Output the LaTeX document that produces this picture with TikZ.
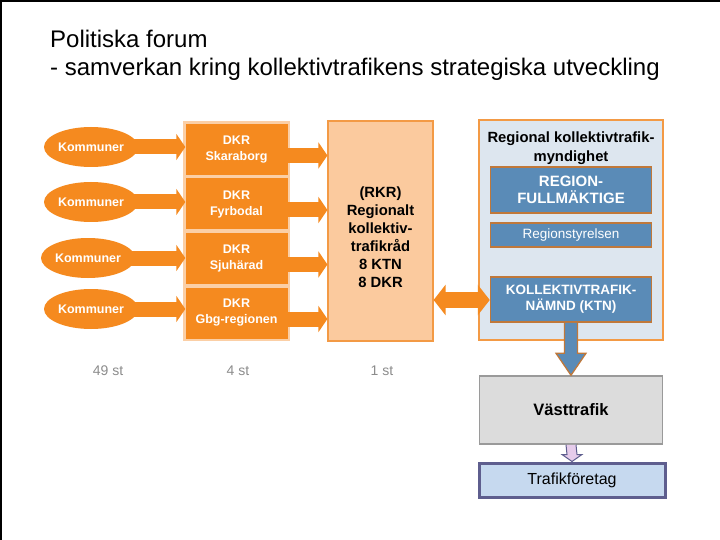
\documentclass[tikz,border=0pt]{standalone}
\usepackage{fontspec}
\setmainfont{Liberation Sans}
\usetikzlibrary{shapes.geometric,arrows.meta,calc}
\definecolor{org}{HTML}{F58A1F}
\definecolor{orglight}{HTML}{FBCFA6}
\definecolor{peach}{HTML}{FBCA9E}
\definecolor{orgborder}{HTML}{F39A45}
\definecolor{mynfill}{HTML}{DDE6EF}
\definecolor{blu}{HTML}{5A8BB7}
\definecolor{brn}{HTML}{C0783A}
\definecolor{vtfill}{HTML}{DCDCDC}
\definecolor{vtdraw}{HTML}{9A9A9A}
\definecolor{tffill}{HTML}{C6D9EF}
\definecolor{tfdraw}{HTML}{5E5E8E}
\definecolor{lilac}{HTML}{E6CCEB}
\definecolor{stgray}{HTML}{8C8C8C}
\begin{document}
\begin{tikzpicture}[x=1pt,y=-1pt,
  komm/.style={ellipse, fill=org, text=white, font=\bfseries\fontsize{12.5}{14}\selectfont, minimum width=94pt, minimum height=40pt, inner sep=0pt},
  dkr/.style={rectangle, fill=org, text=white, align=center, font=\bfseries\fontsize{12.5}{16}\selectfont, minimum width=102pt, minimum height=51pt, inner sep=0pt},
  rkrbox/.style={rectangle, fill=peach, draw=orgborder, line width=1.2pt, minimum width=105pt, minimum height=220pt, inner sep=0pt},
  mynbox/.style={rectangle, fill=mynfill, draw=orgborder, line width=1.2pt, minimum width=184pt, minimum height=220pt, inner sep=0pt},
  bluebox/.style={rectangle, fill=blu, draw=brn, line width=1.5pt, text=white, align=center, minimum width=161pt, inner sep=0pt},
  oarrow/.style={draw=org, line width=15pt, -{Triangle[length=9pt,width=26pt]}},
  starrow/.style={text=stgray, font=\fontsize{14}{16}\selectfont}
]
\useasboundingbox (0,0) rectangle (720,540);
\fill[white] (0,0) rectangle (720,540);
\draw[line width=2pt] (1,540) -- (1,1) -- (720,1);

% title
\node[anchor=base west, font=\fontsize{24}{28}\selectfont, inner sep=0pt] (t1) at (50,48) {Politiska forum};
\node[anchor=base west, font=\fontsize{24}{28}\selectfont, inner sep=0pt] (t2) at (50,76) {- samverkan kring kollektivtrafikens strategiska utveckling};

% DKR column background
\fill[orglight] (183,121) rectangle (290,341);

% DKR boxes
\node[dkr] (d1) at (236.5,149.5) {DKR\\Skaraborg};
\node[dkr] (d2) at (236.5,204) {DKR\\Fyrbodal};
\node[dkr] (d3) at (236.5,258.5) {DKR\\Sjuhärad};
\node[dkr] (d4) at (236.5,313) {DKR\\Gbg-regionen};

% RKR
\node[rkrbox] (rkr) at (380.5,231) {};
\node[align=center, font=\bfseries\fontsize{14.8}{18}\selectfont, inner sep=0pt] (rkrtext) at (380.5,237) {(RKR)\\Regionalt\\kollektiv-\\trafikråd\\8 KTN\\8 DKR};

% Kommuner ellipses and arrows
\node[komm] (k1) at (91,147) {Kommuner};
\node[komm] (k2) at (91,202) {Kommuner};
\node[komm] (k3) at (88,258) {Kommuner};
\node[komm] (k4) at (91,309) {Kommuner};
\foreach \i in {1,...,4}{
  \draw[oarrow] ([xshift=-6pt]k\i.east) -- (k\i.east -| d\i.west);
  \draw[oarrow] ([yshift=-6pt]d\i.east) -- ([yshift=-6pt]d\i.east -| rkr.west);
}

% Myndighet
\node[mynbox] (myn) at (571,230) {};
\node[align=center, font=\bfseries\fontsize{14.8}{19}\selectfont, inner sep=0pt] (myntitle) at (571,148) {Regional kollektivtrafik-\\myndighet};
\node[bluebox, minimum height=46pt, font=\bfseries\fontsize{15}{17}\selectfont] (rf) at (571,190) {REGION-\\FULLMÄKTIGE};
\node[bluebox, minimum height=24pt, font=\fontsize{13.5}{15}\selectfont] (rs) at (571,235) {Regionstyrelsen};
\node[bluebox, minimum height=45pt, font=\bfseries\fontsize{13.5}{16}\selectfont] (ktn) at (571,299.5) {KOLLEKTIVTRAFIK-\\NÄMND (KTN)};

% double arrow
\draw[draw=org, line width=16pt, {Triangle[length=12pt,width=30pt]}-{Triangle[length=12pt,width=30pt]}] (rkr.east |- 0,300) -- (ktn.west |- 0,300);

% Västtrafik
\node[rectangle, fill=vtfill, draw=vtdraw, line width=1.5pt, minimum width=183pt, minimum height=68pt, font=\bfseries\fontsize{16.5}{19}\selectfont] (vt) at (571,410) {Västtrafik};

% Trafikföretag
\node[rectangle, fill=tffill, draw=tfdraw, line width=3pt, minimum width=186pt, minimum height=34pt, font=\fontsize{16}{18}\selectfont] (tf) at (572,480) {Trafikföretag};

% KTN -> Västtrafik
\draw[fill=blu, draw=brn, line width=1.3pt, line join=miter]
  ($(ktn.south)+(-6.5,0)$) -- ($(vt.north)+(-6.5,-22)$) -- ($(vt.north)+(-15,-22)$) -- (vt.north)
  -- ($(vt.north)+(15,-22)$) -- ($(vt.north)+(6.5,-22)$) -- ($(ktn.south)+(6.5,0)$);

% Västtrafik -> Trafikföretag
\draw[fill=lilac, draw=tfdraw, line width=1pt, line join=miter]
  ($(vt.south)+(-5,0)$) -- ($(tf.north)+(-5,-7)$) -- ($(tf.north)+(-10,-7)$) -- (tf.north)
  -- ($(tf.north)+(10,-7)$) -- ($(tf.north)+(5,-7)$) -- ($(vt.south)+(5,0)$);

% counts
\node[starrow] (c1) at (108,371) {49 st};
\node[starrow] (c2) at (238,371) {4 st};
\node[starrow] (c3) at (382,371) {1 st};
\end{tikzpicture}
\end{document}
